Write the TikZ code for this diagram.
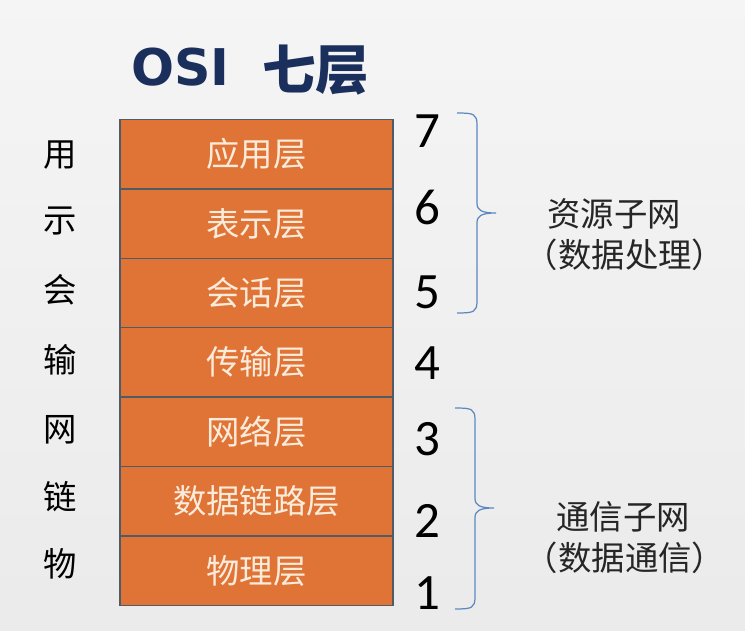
\documentclass[tikz,border=0pt]{standalone}
\usepackage{fontspec}
\setmainfont{Noto Sans CJK SC}
\newfontfamily\numfont{Carlito}
\newfontfamily\osifont{DejaVu Sans}
\usepackage{tikz}
\definecolor{layerfill}{HTML}{DF7436}
\definecolor{layerline}{HTML}{4F5B66}
\definecolor{layertext}{HTML}{FBEBDA}
\definecolor{titleblue}{HTML}{1A2F5C}
\definecolor{braceblue}{HTML}{5B88C0}
\tikzset{
  layer/.style={draw=layerline,line width=0.8pt,fill=layerfill,text=layertext,
    minimum width=5.46cm,minimum height=1.388cm,inner sep=0pt,
    font=\fontsize{19pt}{22pt}\selectfont},
  abbr/.style={font=\fontsize{19pt}{22pt}\selectfont,text=black},
  num/.style={font=\numfont\fontsize{29pt}{32pt}\selectfont,text=black},
  subnet/.style={font=\fontsize{19pt}{22pt}\selectfont,text=black!85},
  brace/.style={draw=braceblue,line width=0.7pt}
}

\begin{document}
\begin{tikzpicture}[x=0.02cm,y=-0.02cm]

  % background
  \shade[top color=white!96!black,bottom color=white!92!black] (0,0) rectangle (745,631);
  \useasboundingbox (0,0) rectangle (745,631);

  % title
  \node[anchor=west,inner sep=0pt,text=titleblue,font=\osifont\bfseries\fontsize{28.8pt}{32pt}\selectfont] at (131,67) (osi) {OSI};
  \node[anchor=west,inner sep=0pt,text=titleblue,font=\bfseries\fontsize{30.5pt}{34pt}\selectfont] at (262,70) (seven) {七层};

  % the seven layers
  \node[layer] at (256.5,154.2) (app)   {应用层};
  \node[layer] at (256.5,223.6) (pres)  {表示层};
  \node[layer] at (256.5,293.0) (sess)  {会话层};
  \node[layer] at (256.5,362.4) (trans) {传输层};
  \node[layer] at (256.5,431.8) (net)   {网络层};
  \node[layer] at (256.5,501.2) (link)  {数据链路层};
  \node[layer] at (256.5,570.6) (phys)  {物理层};

  % short names on the left
  \node[abbr] at (60,155) (sapp)   {用};
  \node[abbr] at (60,221) (spres)  {示};
  \node[abbr] at (60,290) (ssess)  {会};
  \node[abbr] at (60,360) (strans) {输};
  \node[abbr] at (60,430) (snet)   {网};
  \node[abbr] at (60,497) (slink)  {链};
  \node[abbr] at (60,564) (sphys)  {物};

  % layer numbers
  \node[num] at (427,131) (n7) {7};
  \node[num] at (427,207) (n6) {6};
  \node[num] at (427,292) (n5) {5};
  \node[num] at (427,363) (n4) {4};
  \node[num] at (427,439) (n3) {3};
  \node[num] at (427,521) (n2) {2};
  \node[num] at (427,593) (n1) {1};

  % braces
  \draw[brace] (457,113) .. controls (474,113) and (477,114) .. (477,125)
    -- (477,203) .. controls (477,210) and (481,213) .. (496,213)
    .. controls (481,213) and (477,216) .. (477,223)
    -- (477,301) .. controls (477,312) and (474,313) .. (457,313);
  \draw[brace] (455,408) .. controls (472,408) and (475,409) .. (475,420)
    -- (475,498) .. controls (475,505) and (479,508) .. (494,508)
    .. controls (479,508) and (475,511) .. (475,518)
    -- (475,597) .. controls (475,608) and (472,609) .. (455,609);

  % subnets
  \node[subnet] at (614,214) (res)     {资源子网};
  \node[subnet] at (625,255) (resnote) {（数据处理）};
  \node[subnet] at (623,517) (com)     {通信子网};
  \node[subnet] at (625,558) (comnote) {（数据通信）};

\end{tikzpicture}
\end{document}
